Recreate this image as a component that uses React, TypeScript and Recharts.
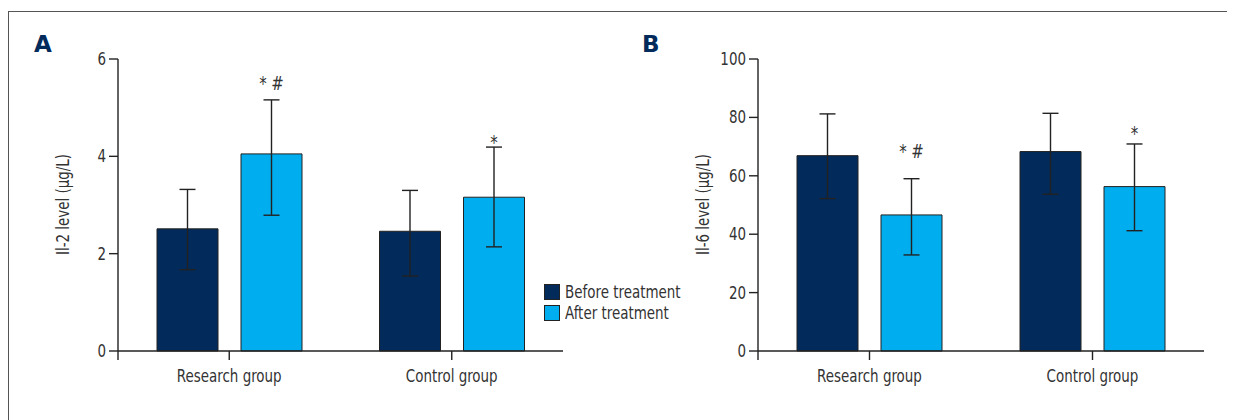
import React from 'react';
import {
    Bar,
    BarChart,
    ErrorBar,
    LabelList,
    Legend,
    ReferenceLine,
    XAxis,
    YAxis,
} from 'recharts';

const groups = ['Research group', 'Control group'];
const seriesNames = ['Before treatment', 'After treatment'];

// Il-2 (panel A), errors as [below, above]
const il2Before = [2.51, 2.46];
const il2BeforeErr = [[0.84, 0.81], [0.92, 0.84]];
const il2After = [4.05, 3.16];
const il2AfterErr = [[1.26, 1.11], [1.02, 1.03]];
const il2Marks = ['* #', '*'];
const il2Ticks = [0, 2, 4, 6];

// Il-6 (panel B)
const il6Before = [66.9, 68.3];
const il6BeforeErr = [[14.7, 14.3], [14.6, 13.1]];
const il6After = [46.6, 56.3];
const il6AfterErr = [[13.7, 12.4], [15.1, 14.6]];
const il6Marks = ['* #', '*'];
const il6Ticks = [0, 20, 40, 60, 80, 100];

const NAVY = '#022a5b';
const SKY = '#00adee';
const INK = '#222';
const TEXT = '#333';
const FONT = '"DejaVu Sans Condensed", "Liberation Sans Narrow", sans-serif';
// squeeze the text a bit more, the original uses a narrow face
const SX = 0.83;

type Row = {
    group: string;
    before: number;
    beforeErr: number[];
    after: number;
    afterErr: number[];
    mark: string;
};

const il2Data: Row[] = groups.map((g, i) => ({
    group: g,
    before: il2Before[i],
    beforeErr: il2BeforeErr[i],
    after: il2After[i],
    afterErr: il2AfterErr[i],
    mark: il2Marks[i],
}));

const il6Data: Row[] = groups.map((g, i) => ({
    group: g,
    before: il6Before[i],
    beforeErr: il6BeforeErr[i],
    after: il6After[i],
    afterErr: il6AfterErr[i],
    mark: il6Marks[i],
}));

const NarrowText = (props: any) => {
    const { x, y, anchor = 'middle', size = 17, rotate = false, baseline, children } = props;
    return (
        <text
            transform={`translate(${x} ${y})${rotate ? ' rotate(-90)' : ''} scale(${SX} 1)`}
            textAnchor={anchor}
            dominantBaseline={baseline}
            fill={TEXT}
            fontSize={size}
            fontFamily={FONT}
        >
            {children}
        </text>
    );
};

const GroupTick = (props: any) => {
    const { x, y, payload } = props;
    return (
        <g>
            <line x1={x} x2={x} y1={y - 9} y2={y} stroke={INK} strokeWidth={1.4} />
            <NarrowText x={x} y={y + 22} size={18}>
                {payload.value}
            </NarrowText>
        </g>
    );
};

const ValueTick = (props: any) => {
    const { x, y, payload } = props;
    return (
        <NarrowText x={x} y={y} anchor="end" baseline="central" size={18}>
            {payload.value}
        </NarrowText>
    );
};

const YTitle = (props: any) => {
    const { viewBox, text } = props;
    const x = viewBox.x + viewBox.width - 55;
    const y = viewBox.y + viewBox.height / 2 - 5;
    return (
        <NarrowText x={x} y={y} rotate baseline="central" size={18}>
            {text}
        </NarrowText>
    );
};

// stars sit above the error bar of the "after" bar
const makeMark = (data: Row[], gaps: Record<string, number>) => (props: any) => {
    const vb = props.viewBox ?? props;
    const { index, value } = props;
    const row = data[index];
    if (!row || !value) return null;
    const h = Math.abs(vb.height);
    const top = Math.min(vb.y, vb.y + vb.height);
    const errTop = top - (row.afterErr[1] * h) / row.after;
    return (
        <NarrowText x={vb.x + vb.width / 2} y={errTop - (gaps[value] ?? 6)} size={20}>
            {value}
        </NarrowText>
    );
};

const legendColors = [NAVY, SKY];

const renderLegend = () => (
    <div style={{ fontFamily: FONT, fontSize: 18, color: TEXT }}>
        {seriesNames.map((name, i) => (
            <div key={name} style={{ display: 'flex', alignItems: 'center', height: 21 }}>
                <span
                    style={{
                        width: 14,
                        height: 14,
                        background: legendColors[i],
                        border: `1px solid ${INK}`,
                        marginRight: 5,
                    }}
                />
                <span
                    style={{
                        display: 'inline-block',
                        transform: `scaleX(${SX})`,
                        transformOrigin: 'left center',
                        whiteSpace: 'nowrap',
                    }}
                >
                    {name}
                </span>
            </div>
        ))}
    </div>
);

interface PanelProps {
    data: Row[];
    ticks: number[];
    domain: [number, number];
    title: string;
    width: number;
    yAxisWidth: number;
    right: number;
    gaps: Record<string, number>;
    legend?: boolean;
}

const Panel = ({ data, ticks, domain, title, width, yAxisWidth, right, gaps, legend }: PanelProps) => (
    <BarChart
        width={width}
        height={400}
        data={data}
        margin={{ top: 51, right, bottom: 8, left: 0 }}
        barSize={61}
        barGap={23}
    >
        <XAxis
            dataKey="group"
            axisLine={false}
            tickLine={false}
            tickSize={0}
            tickMargin={0}
            height={40}
            tick={<GroupTick />}
            interval={0}
        />
        <YAxis
            type="number"
            domain={domain}
            ticks={ticks}
            allowDataOverflow
            width={yAxisWidth}
            axisLine={{ stroke: INK, strokeWidth: 1.4 }}
            tickLine={{ stroke: INK, strokeWidth: 1.4 }}
            tickSize={9}
            tickMargin={3}
            tick={<ValueTick />}
            label={<YTitle text={title} />}
        />
        <Bar
            dataKey="before"
            name={seriesNames[0]}
            fill={NAVY}
            stroke={INK}
            strokeWidth={1}
            isAnimationActive={false}
        >
            <ErrorBar dataKey="beforeErr" width={8} stroke={INK} strokeWidth={1.4} />
        </Bar>
        <Bar
            dataKey="after"
            name={seriesNames[1]}
            fill={SKY}
            stroke={INK}
            strokeWidth={1}
            isAnimationActive={false}
        >
            <ErrorBar dataKey="afterErr" width={8} stroke={INK} strokeWidth={1.4} />
            <LabelList dataKey="mark" content={makeMark(data, gaps)} />
        </Bar>
        <ReferenceLine y={0} stroke={INK} strokeWidth={1.4} />
        {legend && (
            <Legend
                layout="horizontal"
                verticalAlign="middle"
                align="center"
                content={renderLegend}
                wrapperStyle={{ left: 536, top: 273, width: 170 }}
            />
        )}
    </BarChart>
);

const letterStyle: React.CSSProperties = {
    position: 'absolute',
    top: 25,
    fontFamily: '"DejaVu Sans", sans-serif',
    fontWeight: 700,
    fontSize: 23,
    lineHeight: '23px',
    color: NAVY,
};

const App = () => {
    return (
        <div style={{ position: 'relative', width: 1227, height: 412 }}>
            <div
                style={{
                    position: 'absolute',
                    left: 0,
                    top: 3,
                    width: 1227,
                    height: 409,
                    borderTop: '1px solid #555',
                    borderLeft: '1px solid #555',
                    boxSizing: 'border-box',
                }}
            />
            <div style={{ ...letterStyle, left: 26 }}>A</div>
            <div style={{ ...letterStyle, left: 634 }}>B</div>
            <div style={{ position: 'absolute', left: 0, top: 0 }}>
                <Panel
                    data={il2Data}
                    ticks={il2Ticks}
                    domain={[-0.185, 6]}
                    title="Il-2 level (µg/L)"
                    width={600}
                    yAxisWidth={110}
                    right={45}
                    gaps={{ '* #': 10, '*': -2 }}
                    legend
                />
            </div>
            <div style={{ position: 'absolute', left: 612, top: 0 }}>
                <Panel
                    data={il6Data}
                    ticks={il6Ticks}
                    domain={[-3.08, 100]}
                    title="Il-6 level (µg/L)"
                    width={615}
                    yAxisWidth={138}
                    right={31}
                    gaps={{ '* #': 21, '*': 4 }}
                />
            </div>
        </div>
    );
};

export default App;
